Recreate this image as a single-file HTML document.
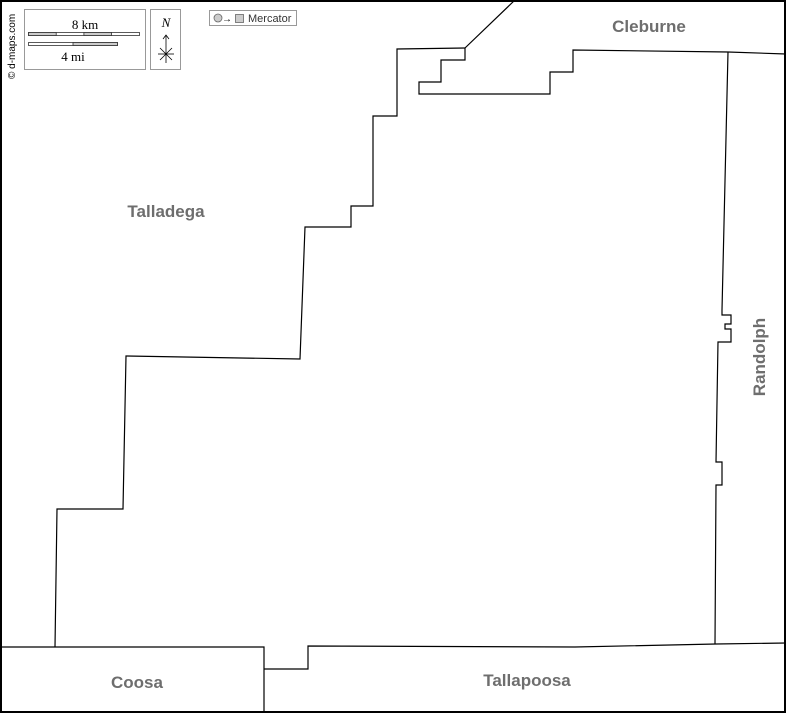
<!DOCTYPE html>
<html><head><style>
html,body{margin:0;padding:0;background:#fff}
svg{display:block}
.l{font-family:"Liberation Sans",sans-serif;font-weight:bold;font-size:17px;fill:#6e6e6e}
</style></head><body>
<svg width="786" height="713" viewBox="0 0 786 713" xmlns="http://www.w3.org/2000/svg">
<rect x="0" y="0" width="786" height="713" fill="#fff"/>
<g fill="none" stroke="#000" stroke-width="1.2">
<polyline points="55,647 57,509 123,509 126,356 300,359 305,227 351,227 351,206 373,206 373,116 397,116 397,49 465,48"/>
<line x1="465" y1="48" x2="515" y2="0"/>
<polyline points="465,48 465,60 441,60 441,82 419,82 419,94 550,94 550,72 573,72 573,50 728,52 786,54"/>
<polyline points="728,52 722,310 722,315 731,315 731,324 725,324 725,329 731,329 731,342 718,342 716,462 722,462 722,485 716,485 715,644"/>
<polyline points="0,647 264,647 264,713"/>
<polyline points="264,669 308,669 308,646 575,647 716,644 786,643"/>
</g>
<rect x="1" y="1" width="784" height="711" fill="none" stroke="#000" stroke-width="2"/>
<text class="l" x="166" y="217" text-anchor="middle">Talladega</text>
<text class="l" x="649" y="32" text-anchor="middle">Cleburne</text>
<text class="l" x="137" y="688" text-anchor="middle">Coosa</text>
<text class="l" x="527" y="686" text-anchor="middle">Tallapoosa</text>
<text class="l" transform="translate(765,357) rotate(-90)" text-anchor="middle">Randolph</text>
<!-- legend -->
<text transform="translate(15,79) rotate(-90)" font-family="Liberation Sans,sans-serif" font-size="10" fill="#000">© d-maps.com</text>
<rect x="24.5" y="9.5" width="121" height="60" fill="#fff" stroke="#999"/>
<text x="85" y="29" text-anchor="middle" font-family="Liberation Serif,serif" font-size="13">8 km</text>
<rect x="28.5" y="32.5" width="111" height="3" fill="#fff" stroke="#333" stroke-width="0.8"/>
<rect x="28.5" y="32.5" width="27.7" height="3" fill="#ccc" stroke="#333" stroke-width="0.8"/>
<rect x="83.9" y="32.5" width="27.7" height="3" fill="#ccc" stroke="#333" stroke-width="0.8"/>
<rect x="28.5" y="42.5" width="89" height="3" fill="#fff" stroke="#333" stroke-width="0.8"/>
<rect x="73" y="42.5" width="44.5" height="3" fill="#ccc" stroke="#333" stroke-width="0.8"/>
<text x="73" y="61" text-anchor="middle" font-family="Liberation Serif,serif" font-size="13">4 mi</text>
<rect x="150.5" y="9.5" width="30" height="60" fill="#fff" stroke="#999"/>
<text x="166" y="27" text-anchor="middle" font-family="Liberation Serif,serif" font-style="italic" font-size="13">N</text>
<g stroke="#000" stroke-width="0.8" fill="none">
<line x1="166" y1="35" x2="166" y2="63"/><polyline points="163,39 166,35 169,39"/>
<line x1="158" y1="54" x2="174" y2="54"/><line x1="160" y1="48" x2="172" y2="60"/><line x1="172" y1="48" x2="160" y2="60"/>
</g>
<rect x="209.5" y="10.5" width="87" height="15" fill="#fff" stroke="#999"/>
<circle cx="218" cy="18" r="4" fill="#ccc" stroke="#666" stroke-width="0.8"/>
<text x="222" y="22" font-family="Liberation Sans,sans-serif" font-size="10">→</text>
<rect x="235.5" y="14.5" width="8" height="8" fill="#ccc" stroke="#666" stroke-width="0.8"/>
<text x="248" y="22" font-family="Liberation Sans,sans-serif" font-size="11" fill="#333">Mercator</text>
</svg>
</body></html>
